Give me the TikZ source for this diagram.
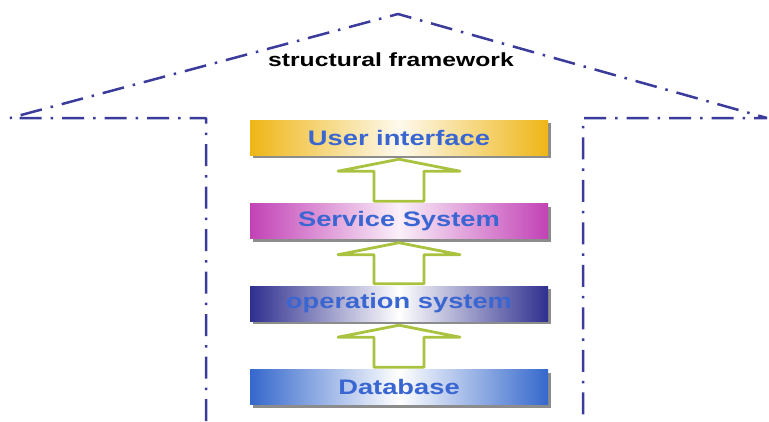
\documentclass[tikz,border=0pt]{standalone}
\usepackage{fontspec}
\newfontfamily\widesans[FakeStretch=1.3]{Liberation Sans}
\usepackage{tikz}
\usetikzlibrary{calc,shadows}
\definecolor{frameblue}{HTML}{3B3B9B}
\definecolor{uigold}{HTML}{EEB616}
\definecolor{svcpink}{HTML}{C242B6}
\definecolor{opsnavy}{HTML}{2F2F8F}
\definecolor{dbblue}{HTML}{3568CC}
\definecolor{labelblue}{HTML}{3A66D2}
\definecolor{arrowgreen}{HTML}{A9C23F}
\tikzset{
  layer/.style={minimum width=298pt, minimum height=35pt, inner sep=0pt,
                font=\widesans\bfseries\fontsize{21}{24}\selectfont, text=labelblue,
                drop shadow={shadow xshift=3pt, shadow yshift=-3pt, fill=black!45, opacity=1}},
  title/.style={font=\widesans\bfseries\fontsize{19}{22}\selectfont, text=black},
  frame/.style={draw=frameblue, line width=2.5pt, line join=bevel,
                dash pattern=on 22pt off 9pt on 2.5pt off 9pt},
  hollowup/.style={draw=arrowgreen, line width=2.8pt, fill=white, line join=round,
    to path={($(\tikztostart)+(-25,-2)$) -- ($(\tikztotarget)+(-25,16)$)
      -- ($(\tikztotarget)+(-61,16)$) -- ($(\tikztotarget)+(0,4)$)
      -- ($(\tikztotarget)+(61,16)$) -- ($(\tikztotarget)+(25,16)$)
      -- ($(\tikztostart)+(25,-2)$) -- cycle}},
}
\begin{document}
\begin{tikzpicture}[x=1pt, y=-1pt]
\useasboundingbox (0,0) rectangle (769,421);

% house outline: roof and two walls
\draw[frame] (206,421) -- (206,118) -- (10,118) -- (398,14) -- (767,118)
  -- (583,118) -- (583,421);
\node[title] (roof) at (391,60) {structural framework};

\node[layer, left color=uigold, right color=uigold, middle color=uigold!8]
  (ui) at (399,137.5) {User interface};
\node[layer, left color=svcpink, right color=svcpink, middle color=svcpink!8]
  (svc) at (399,221) {Service System};
\node[layer, left color=opsnavy, right color=opsnavy, middle color=white]
  (ops) at (399,303.5) {operation system};
\node[layer, left color=dbblue, right color=dbblue, middle color=white]
  (db) at (399,387) {Database};

\draw[hollowup] (svc.north) to (ui.south);
\draw[hollowup] (ops.north) to (svc.south);
\draw[hollowup] (db.north) to (ops.south);

\end{tikzpicture}
\end{document}
